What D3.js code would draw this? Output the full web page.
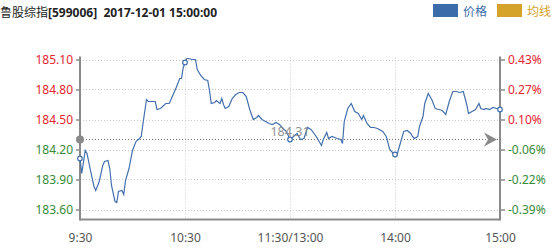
<!DOCTYPE html>
<html>
<head>
<meta charset="utf-8">
<script src="https://cdn.jsdelivr.net/npm/d3@7"></script>
<style>
  body { margin: 0; background: #fff; }
  svg { display: block; font-family: "Noto Sans", "Noto Sans CJK SC", sans-serif; }
</style>
</head>
<body>
<svg width="556" height="250"></svg>
<script>
const svg = d3.select("svg");

// trading minute since 9:30 (lunch break removed) and price
const minutes = [0, 1, 3, 4, 6, 8, 9, 11, 13, 14, 16, 17, 18, 20, 21, 22, 24, 25, 26, 28,
  30, 32, 34, 35, 36, 37, 38, 39, 41, 43, 44, 46, 49, 51, 53, 55, 57, 58, 59, 60,
  61, 62, 64, 66, 67, 69, 71, 73, 74, 75, 77, 78, 80, 81, 82, 83, 85, 87, 89, 91,
  93, 95, 97, 99, 101, 102, 104, 106, 108, 110, 112, 114, 116, 118, 120, 122, 124, 126, 128, 130,
  132, 135, 138, 139, 141, 142, 144, 147, 149, 150, 151, 153, 155, 157, 159, 161, 162, 164, 166, 168,
  170, 171, 173, 175, 177, 179, 180, 181, 183, 185, 187, 189, 190, 191, 193, 194, 196, 197, 199, 201,
  203, 205, 207, 209, 211, 213, 215, 217, 219, 221, 222, 224, 226, 228, 229, 231, 232, 234, 236, 238, 240];
const prices = [184.11, 183.96, 184.19, 184.16, 183.99, 183.83, 183.79, 183.88, 184.04, 184.08, 184.09, 184.01, 183.84, 183.68, 183.67, 183.78, 183.79, 183.75, 183.89, 184.01,
  184.19, 184.28, 184.31, 184.33, 184.46, 184.58, 184.70, 184.68, 184.68, 184.68, 184.60, 184.61, 184.66, 184.66, 184.74, 184.82, 184.91, 184.91, 185.02, 185.07,
  185.11, 185.11, 185.10, 185.10, 185.00, 184.94, 184.90, 184.89, 184.79, 184.66, 184.67, 184.69, 184.66, 184.71, 184.65, 184.61, 184.63, 184.71, 184.75, 184.77,
  184.77, 184.73, 184.60, 184.50, 184.52, 184.54, 184.50, 184.48, 184.46, 184.45, 184.47, 184.45, 184.41, 184.38, 184.30, 184.33, 184.36, 184.30, 184.31, 184.42,
  184.40, 184.33, 184.24, 184.30, 184.37, 184.31, 184.33, 184.31, 184.30, 184.26, 184.48, 184.61, 184.66, 184.58, 184.56, 184.50, 184.54, 184.46, 184.42, 184.42,
  184.41, 184.40, 184.38, 184.33, 184.20, 184.16, 184.15, 184.14, 184.26, 184.38, 184.39, 184.36, 184.33, 184.31, 184.33, 184.43, 184.53, 184.66, 184.76, 184.70,
  184.61, 184.60, 184.59, 184.55, 184.68, 184.78, 184.78, 184.77, 184.78, 184.65, 184.56, 184.58, 184.60, 184.66, 184.61, 184.60, 184.61, 184.60, 184.62, 184.61, 184.60];

const prevClose = 184.31;
const priceTicks = [185.10, 184.80, 184.50, 184.20, 183.90, 183.60];
const pctTicks = ["0.43%", "0.27%", "0.10%", "-0.06%", "-0.22%", "-0.39%"];
const timeTicks = [0, 60, 120, 180, 240];
const timeLabels = ["9:30", "10:30", "11:30/13:00", "14:00", "15:00"];

const title = ["鲁股综指", "[599006]  2017-12-01 15:00:00"];
const legendNames = ["价格", "均线"];
const legendColors = ["#3d6caa", "#d6a32a"];

const pLeft = 80, pRight = 500, pTop = 57.5, pBottom = 219.5;
const red = "#e3262f", green = "#3a8a3a", axisGray = "#8a8a8a";

const x = d3.scaleLinear().domain([0, 240]).range([pLeft, pRight]);
const y = d3.scaleLinear().domain([183.50, 185.12]).range([pBottom, pTop]);

const data = minutes.map((m, i) => ({ m: m, p: prices[i] }));

// title
const t = svg.append("text").attr("x", 0).attr("y", 16.5)
  .attr("font-size", 12).attr("fill", "#222");
t.append("tspan").attr("font-family", "Noto Sans CJK SC").text(title[0]);
t.append("tspan").attr("font-weight", "bold").attr("xml:space", "preserve").text(title[1]);

// legend
const legX = [433, 497];
legendNames.forEach((name, i) => {
  svg.append("rect").attr("x", legX[i]).attr("y", 4).attr("width", 25).attr("height", 13)
    .attr("fill", legendColors[i]);
  svg.append("text").attr("x", legX[i] + 30).attr("y", 16)
    .attr("font-family", "Noto Sans CJK SC").attr("font-size", 12)
    .attr("fill", legendColors[i]).text(name);
});

// grid
svg.append("g").selectAll("line").data(priceTicks).join("line")
  .attr("x1", pLeft).attr("x2", pRight)
  .attr("y1", d => Math.round(y(d)) + 0.5).attr("y2", d => Math.round(y(d)) + 0.5)
  .attr("stroke", "#c8c8c8").attr("stroke-dasharray", "1,2");
svg.append("g").selectAll("line").data(timeTicks.slice(1, -1)).join("line")
  .attr("x1", d => Math.round(x(d)) + 0.5).attr("x2", d => Math.round(x(d)) + 0.5)
  .attr("y1", pTop).attr("y2", pBottom)
  .attr("stroke", "#c8c8c8").attr("stroke-dasharray", "1,2");

// previous close line
const yb = Math.round(y(prevClose)) + 0.5;
svg.append("line").attr("x1", pLeft).attr("x2", pRight).attr("y1", yb).attr("y2", yb)
  .attr("stroke", "#777").attr("stroke-dasharray", "1,2");

// axes
const leftAxis = svg.append("g").attr("transform", `translate(${pLeft},0)`)
  .call(d3.axisLeft(y).tickValues(priceTicks).tickSize(4).tickFormat(d3.format(".2f")));
leftAxis.select(".domain").remove();
leftAxis.selectAll(".tick line").attr("stroke", "#555");
leftAxis.selectAll(".tick text")
  .attr("x", -7).attr("font-size", 12).attr("font-family", "Noto Sans")
  .attr("fill", d => d > prevClose ? red : green);

const rightAxis = svg.append("g").attr("transform", `translate(${pRight},0)`)
  .call(d3.axisRight(y).tickValues(priceTicks).tickSize(5).tickFormat((d, i) => pctTicks[i]));
rightAxis.select(".domain").remove();
rightAxis.selectAll(".tick line").attr("stroke", "#555");
rightAxis.selectAll(".tick text")
  .attr("x", 8).attr("font-size", 12).attr("font-family", "Noto Sans")
  .attr("fill", d => d > prevClose ? red : green);

const bottomAxis = svg.append("g").attr("transform", `translate(0,${pBottom})`)
  .call(d3.axisBottom(x).tickValues(timeTicks).tickSize(0).tickFormat((d, i) => timeLabels[i]));
bottomAxis.select(".domain").remove();
bottomAxis.selectAll(".tick text")
  .attr("y", 14).attr("font-size", 12).attr("font-family", "Noto Sans").attr("fill", "#555");

svg.append("line").attr("x1", pLeft).attr("x2", pLeft).attr("y1", pTop - 1).attr("y2", pBottom + 1)
  .attr("stroke", axisGray).attr("stroke-width", 2);
svg.append("line").attr("x1", pRight).attr("x2", pRight).attr("y1", pTop - 1).attr("y2", pBottom + 1)
  .attr("stroke", axisGray).attr("stroke-width", 2);
svg.append("line").attr("x1", pLeft).attr("x2", pRight).attr("y1", pBottom).attr("y2", pBottom)
  .attr("stroke", axisGray).attr("stroke-width", 2);

// price line
const line = d3.line().x(d => x(d.m)).y(d => y(d.p));
svg.append("path").datum(data).attr("d", line)
  .attr("fill", "none").attr("stroke", "#4470ad").attr("stroke-width", 1.2);

// markers at time ticks
svg.append("g").selectAll("circle").data(data.filter(d => timeTicks.includes(d.m))).join("circle")
  .attr("cx", d => x(d.m)).attr("cy", d => y(d.p)).attr("r", 2.3)
  .attr("fill", "#fff").attr("stroke", "#4470ad").attr("stroke-width", 1.2);

// previous close marks
svg.append("circle").attr("cx", pLeft).attr("cy", yb).attr("r", 4).attr("fill", "#8a8a8a");
svg.append("path")
  .attr("d", `M${pRight - 16},${yb - 7}L${pRight - 3},${yb}L${pRight - 16},${yb + 7}L${pRight - 12},${yb}Z`)
  .attr("fill", "#8a8a8a");
svg.append("text").attr("x", x(120)).attr("y", yb - 3.5).attr("text-anchor", "middle")
  .attr("font-size", 12.5).attr("font-family", "Noto Sans").attr("fill", "#888").attr("opacity", 0.9)
  .text(prevClose.toFixed(2));
</script>
</body>
</html>
